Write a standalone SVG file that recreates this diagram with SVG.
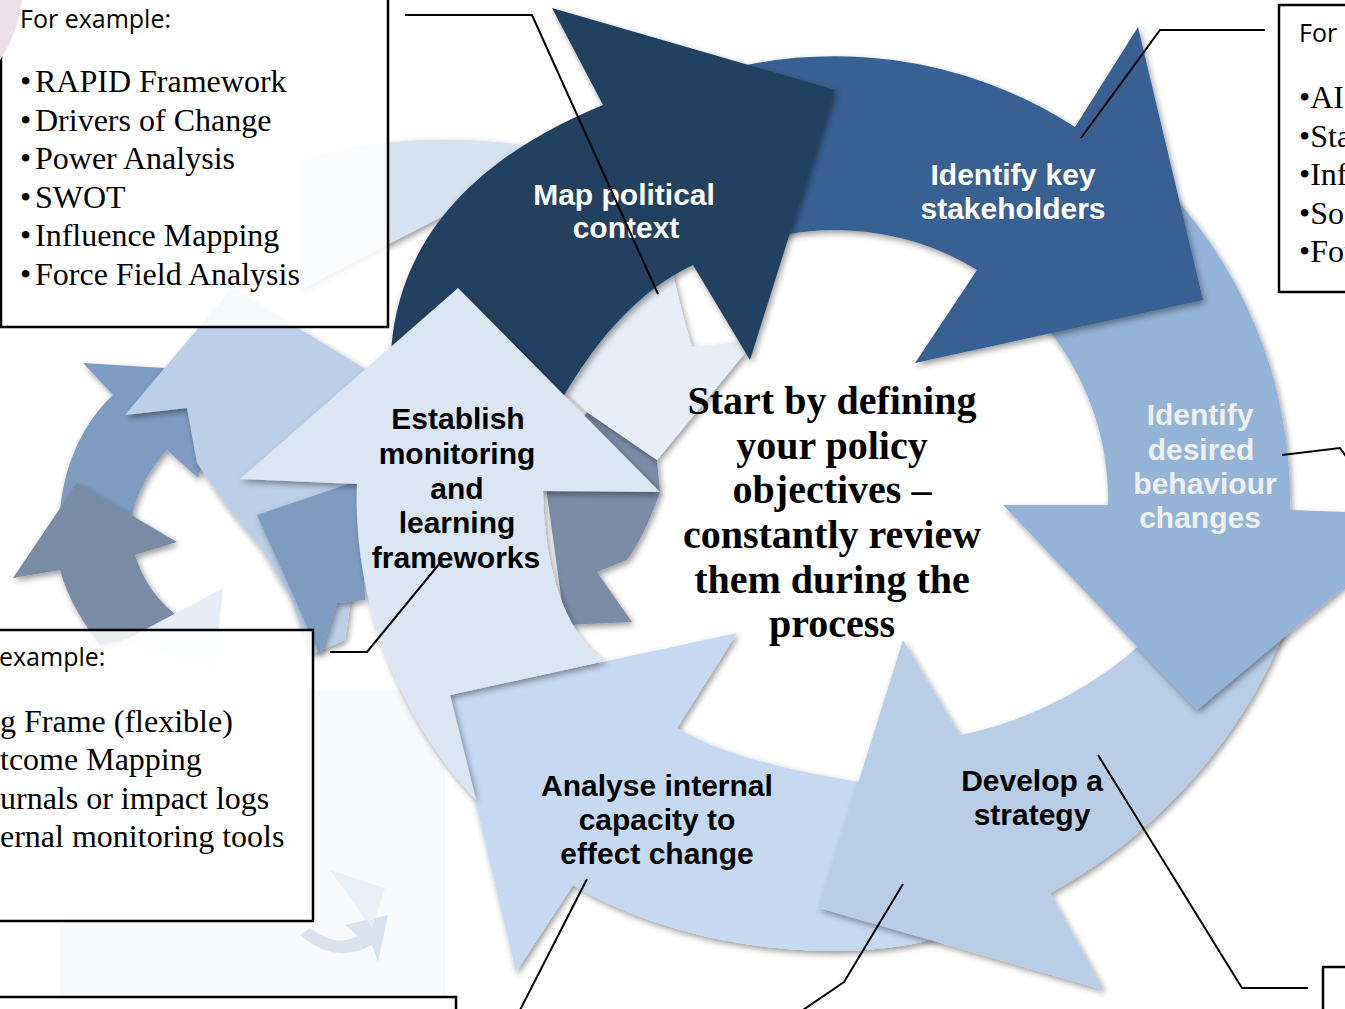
<svg xmlns="http://www.w3.org/2000/svg" width="1345" height="1009" viewBox="0 0 1345 1009">
<defs>
<filter id="sh" x="-20%" y="-20%" width="140%" height="140%">
<feDropShadow dx="2" dy="3" stdDeviation="3" flood-color="#000" flood-opacity="0.4"/>
</filter>
<style>
.lbl{font-family:"Liberation Sans",Arial,sans-serif;font-weight:bold;font-size:30px;text-anchor:middle}
.w{fill:#ffffff}
.g{fill:#eeeff1}
.k{fill:#000000}
.cal{font-family:"Open Sans","Liberation Sans",sans-serif;font-size:25px;fill:#000}
.ser{font-family:"Liberation Serif","Times New Roman",serif;font-size:32px;fill:#000}
.box{fill:#ffffff;stroke:#000;stroke-width:2.5}
.conn{fill:none;stroke:#000;stroke-width:2}
.ctr{font-family:"Liberation Serif","Times New Roman",serif;font-weight:bold;font-size:40px;text-anchor:middle;fill:#000}
</style>
</defs>
<rect width="1345" height="1009" fill="#ffffff"/>

<g id="background">
<rect x="60" y="690" width="385" height="310" fill="#f8f9fb"/>
<path d="M300,935 Q335,965 372,945 L378,962 L388,915 L345,925 L358,936 Q335,948 310,928 Z" fill="#d9e2ed"/>
<path d="M330,870 L385,888 L372,928 Z" fill="#eaeff6"/>
<path d="M300,160 Q410,128 530,146 L447,214 L400,238 L300,290 Z" fill="#d6e2f0" filter="url(#sh)"/>
<path d="M83,363 L230,372 L198,478 L167,450 C140,480 128,515 130,545 L60,545 C55,480 80,425 113,395 Z" fill="#7f9cc0" filter="url(#sh)"/>
<path d="M77,483 L177,542 L135,555 C145,585 160,605 190,625 L100,645 C85,625 68,600 60,570 L13,578 Z" fill="#7a8ba4" filter="url(#sh)"/>
<path d="M125,415 L232,288 L400,390 L365,500 L345,640 L310,655 L290,597 L260,547 L227,507 L197,463 L187,408 Z" fill="#bccfe6" filter="url(#sh)"/>
<path d="M257,515 L360,480 L365,600 L337,603 L320,655 Z" fill="#7f9cbf" filter="url(#sh)"/>
<path d="M223,588 L120,643 L215,668 Z" fill="#e6edf7"/>
<path d="M587,412 L657,460 L660,492 Q645,535 627,560 L597,572 L632,622 L565,625 L545,480 Z" fill="#7b8ca6" filter="url(#sh)"/>
<path d="M672,268 Q678,300 692,347 L738,342 L745,353 L657,460 L587,412 L567,393 Q610,320 672,268 Z" fill="#e7eef8" filter="url(#sh)"/>
</g>

<g id="node-analyse">
<path d="M960,930 C880,965 700,960 573,885 L516,972 L450,695 L737,633 L677,728 C720,755 800,775 915,790 Z" fill="#c6d9f1" filter="url(#sh)"/>
<text class="lbl k"><tspan x="657" y="796">Analyse internal</tspan><tspan x="657" y="830">capacity to</tspan><tspan x="657" y="864">effect change</tspan></text>
</g>

<g id="node-develop">
<path d="M1305,545 C1290,690 1170,830 1050,893 L1104,990 L819,908 L903,640 L960,735 C1040,720 1160,660 1200,560 Z" fill="#b9cde5" filter="url(#sh)"/>
<text class="lbl k"><tspan x="1032" y="791">Develop a</tspan><tspan x="1032" y="825">strategy</tspan></text>
</g>

<g id="node-behaviour">
<path d="M1148,170 A455,455 0 0 1 1290,510 L1430,515 L1197,710 L1003,505 L1108,505 A273,273 0 0 0 1031,310 Z" fill="#95b3d7" filter="url(#sh)"/>
<text class="lbl g"><tspan x="1200" y="425">Identify</tspan><tspan x="1201" y="460">desired</tspan><tspan x="1205" y="494">behaviour</tspan><tspan x="1200" y="528">changes</tspan></text>
</g>

<g id="node-stakeholders">
<path d="M700,77 A444,444 0 0 1 1075,127 L1138,27 L1203,300 L915,363 L977,270 A270,270 0 0 0 720,256 Z" fill="#376092" filter="url(#sh)"/>
<text class="lbl w"><tspan x="1013" y="185">Identify key</tspan><tspan x="1013" y="219">stakeholders</tspan></text>
</g>

<g id="node-map">
<path d="M395,420 C375,300 420,180 603,105 L552,8 L835,90 L750,360 L693,265 C640,290 590,340 540,440 Z" fill="#243f60" filter="url(#sh)"/>
<text class="lbl w"><tspan x="624" y="205">Map political</tspan><tspan x="626" y="238">context</tspan></text>
</g>

<g id="node-establish">
<path d="M543,491 L660,492 L458,288 L240,479 L357,484 C352,600 400,720 476,800 L450,695 L605,661 C575,640 545,590 543,491 Z" fill="#dce6f2" filter="url(#sh)"/>
<text class="lbl k"><tspan x="458" y="429">Establish</tspan><tspan x="457" y="464">monitoring</tspan><tspan x="457" y="499">and</tspan><tspan x="457" y="533">learning</tspan><tspan x="456" y="568">frameworks</tspan></text>
</g>

<g id="center-text">
<text class="ctr"><tspan x="832" y="414">Start by defining</tspan><tspan x="832" y="459">your policy</tspan><tspan x="832" y="503">objectives –</tspan><tspan x="832" y="548">constantly review</tspan><tspan x="832" y="593">them during the</tspan><tspan x="832" y="637">process</tspan></text>
</g>

<g id="box-political">
<rect class="box" x="1" y="-5" width="387" height="332" fill-opacity="0.88"/>
<path d="M0,0 L22,0 Q17,35 0,60 Z" fill="#ecdfe5"/>
<text class="cal" x="20" y="28">For example:</text>
<text class="ser"><tspan x="20" y="92">•</tspan><tspan x="35" y="92">RAPID Framework</tspan></text>
<text class="ser"><tspan x="20" y="131">•</tspan><tspan x="35" y="131">Drivers of Change</tspan></text>
<text class="ser"><tspan x="20" y="169">•</tspan><tspan x="35" y="169">Power Analysis</tspan></text>
<text class="ser"><tspan x="20" y="208">•</tspan><tspan x="35" y="208">SWOT</tspan></text>
<text class="ser"><tspan x="20" y="246">•</tspan><tspan x="35" y="246">Influence Mapping</tspan></text>
<text class="ser"><tspan x="20" y="285">•</tspan><tspan x="35" y="285">Force Field Analysis</tspan></text>
</g>

<g id="box-stakeholders">
<rect class="box" x="1279" y="5" width="90" height="287"/>
<text class="cal" x="1299" y="42">For</text>
<text class="ser" x="1299" y="108">•AI</text>
<text class="ser" x="1299" y="147">•Sta</text>
<text class="ser" x="1299" y="185">•Inf</text>
<text class="ser" x="1299" y="224">•Soc</text>
<text class="ser" x="1299" y="262">•For</text>
</g>

<g id="box-monitoring">
<rect class="box" x="-5" y="630" width="318" height="291" fill-opacity="0.85"/>
<text class="cal" x="-1" y="666">example:</text>
<text class="ser" x="0" y="732">g Frame (flexible)</text>
<text class="ser" x="0" y="770">tcome Mapping</text>
<text class="ser" x="0" y="809">urnals or impact logs</text>
<text class="ser" x="0" y="847">ernal monitoring tools</text>
</g>

<g id="box-analyse">
<rect class="box" x="-5" y="997" width="461" height="30"/>
</g>

<g id="box-strategy">
<rect class="box" x="1323" y="967" width="40" height="60"/>
</g>

<g id="connectors">
<path class="conn" d="M405,15 L532,15 L658,294"/>
<path class="conn" d="M1265,30 L1160,30 L1081,138"/>
<path class="conn" d="M1282,455 L1340,448 L1352,465"/>
<path class="conn" d="M440,563 L367,652 L330,652"/>
<path class="conn" d="M587,879 L519,1012"/>
<path class="conn" d="M903,884 L844,982 L800,1012"/>
<path class="conn" d="M1098,755 L1242,988 L1308,988"/>
</g>
</svg>
